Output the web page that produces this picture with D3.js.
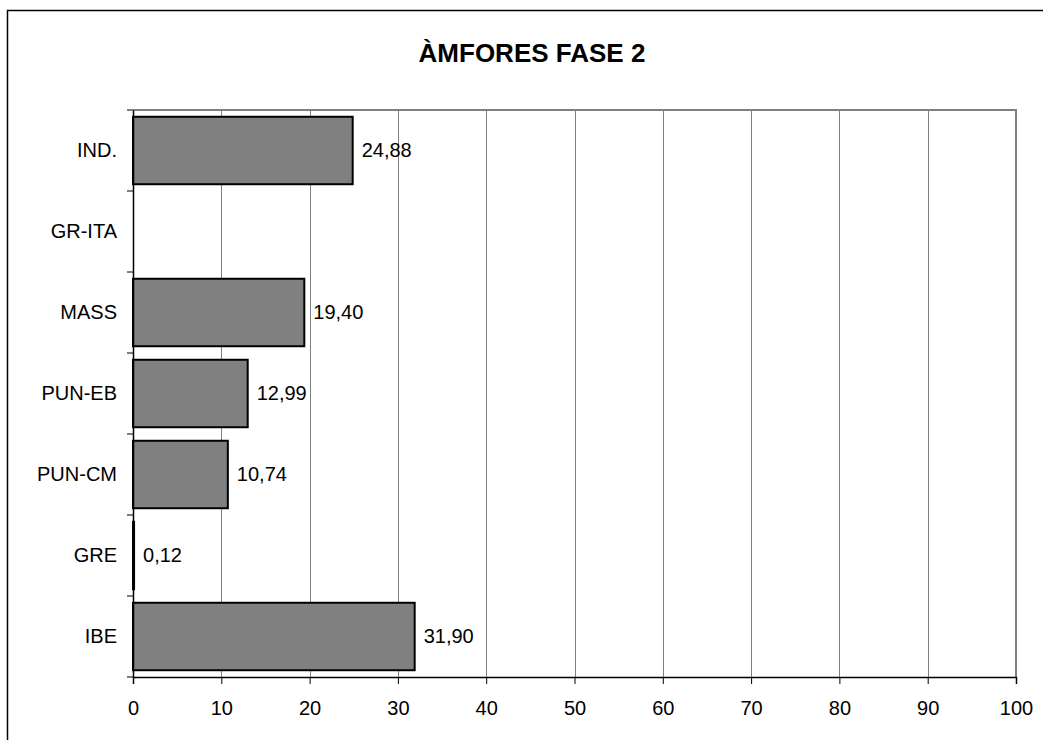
<!DOCTYPE html>
<html><head><meta charset="utf-8">
<script src="https://cdn.jsdelivr.net/npm/d3@7"></script>
<style>body{margin:0;background:#fff}svg{display:block}text{font-family:"Liberation Sans",Arial,sans-serif}</style>
</head><body>
<svg id="c" width="1043" height="740"></svg>
<script>
const title = "ÀMFORES FASE 2";
const categories = ["IND.", "GR-ITA", "MASS", "PUN-EB", "PUN-CM", "GRE", "IBE"];
const values = [24.88, null, 19.40, 12.99, 10.74, 0.12, 31.90];
const xTicks = [0,10,20,30,40,50,60,70,80,90,100];

const svg = d3.select("#c");
const m = {left:133, right:1016, top:110, bottom:677};
const FS = 20;

// outer frame
svg.append("rect").attr("x",7.5).attr("y",10.5).attr("width",1100).attr("height",800)
  .attr("fill","none").attr("stroke","#000").attr("stroke-width",1.5);

const x = d3.scaleLinear().domain([0,100]).range([m.left, m.right]);
const y = d3.scaleBand().domain(categories).range([m.top, m.bottom]).paddingInner(0.167).paddingOuter(0.0835);
const yb = d3.scaleBand().domain(categories).range([m.top, m.bottom]);

// gridlines
svg.append("g").selectAll("line").data(xTicks.slice(1)).join("line")
  .attr("x1",d=>Math.round(x(d))+0.5).attr("x2",d=>Math.round(x(d))+0.5)
  .attr("y1",m.top).attr("y2",m.bottom).attr("stroke","#808080").attr("stroke-width",1);
// plot border top/right
svg.append("line").attr("x1",m.left).attr("x2",m.right+1).attr("y1",m.top).attr("y2",m.top)
  .attr("stroke","#808080").attr("stroke-width",2);
svg.append("line").attr("x1",m.right).attr("x2",m.right).attr("y1",m.top).attr("y2",m.bottom)
  .attr("stroke","#808080").attr("stroke-width",2);

// bars
const data = categories.map((c,i)=>({c, v:values[i]})).filter(d=>d.v!=null);
svg.append("g").selectAll("rect").data(data).join("rect")
  .attr("x",x(0)).attr("y",d=>y(d.c)).attr("width",d=>x(d.v)-x(0)).attr("height",y.bandwidth())
  .attr("fill","#808080").attr("stroke","#000").attr("stroke-width",2);

// value labels
svg.append("g").selectAll("text").data(data).join("text")
  .attr("x",d=>x(d.v)+9).attr("y",d=>y(d.c)+y.bandwidth()/2).attr("dy","0.34em")
  .attr("font-size",FS).attr("fill","#000")
  .text(d=>d3.format(".2f")(d.v).replace(".",","));

// x axis
const xa = svg.append("g").attr("transform",`translate(0,${m.bottom})`)
  .call(d3.axisBottom(x).tickValues(xTicks).tickSize(7).tickPadding(17).tickFormat(d3.format("d")));
xa.select(".domain").attr("stroke","#000").attr("stroke-width",1.5);
xa.selectAll(".tick line").attr("stroke","#000");
xa.selectAll("text").attr("font-size",FS).attr("fill","#000").attr("font-family","Liberation Sans, Arial, sans-serif");

// y axis
const ya = svg.append("g").attr("transform",`translate(${m.left},0)`)
  .call(d3.axisLeft(yb).tickSize(0).tickPadding(16));
ya.select(".domain").attr("stroke","#000").attr("stroke-width",1.5);
ya.selectAll("text").attr("font-size",FS).attr("fill","#000").attr("font-family","Liberation Sans, Arial, sans-serif");
// y ticks at band boundaries
const bounds = categories.map(c=>yb(c)).concat([m.bottom]);
svg.append("g").selectAll("line").data(bounds).join("line")
  .attr("x1",m.left-6).attr("x2",m.left).attr("y1",d=>d).attr("y2",d=>d)
  .attr("stroke","#000").attr("stroke-width",1);

// title
svg.append("text").attr("x",532).attr("y",62).attr("text-anchor","middle")
  .attr("font-size",26).attr("font-weight","bold").attr("fill","#000").text(title);
</script>
</body></html>
